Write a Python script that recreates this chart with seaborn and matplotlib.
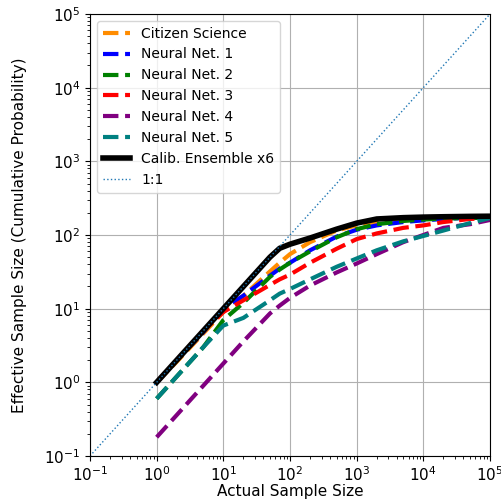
import matplotlib
matplotlib.use("Agg")
import matplotlib.pyplot as plt
import seaborn as sns
import numpy as np

x = [1, 2, 5, 10, 20, 50, 70, 100, 200, 500, 1000, 2000, 5000, 1e4, 2e4, 5e4, 1e5]

citizen = [1, 1.9, 4.6, 9, 15, 32, 42, 55, 80, 115, 135, 148, 160, 165, 170, 173, 175]
nn1 = [1, 2, 4.8, 10, 15, 28, 35, 42, 62, 95, 118, 135, 150, 158, 165, 172, 178]
nn2 = [0.6, 1.2, 3, 7, 12, 27, 34, 42, 60, 93, 120, 140, 155, 162, 167, 170, 172]
nn3 = [1, 2, 5, 9, 13, 21, 25, 29, 42, 65, 88, 105, 125, 135, 150, 165, 170]
nn4 = [0.18, 0.36, 0.9, 1.8, 3.6, 8.6, 11, 14, 20.6, 31, 41, 55, 80, 100, 125, 140, 160]
nn5 = [0.6, 1.2, 3, 5.9, 7.5, 13, 16, 18.5, 25, 37, 48, 62, 82, 97, 115, 145, 170]
calib = [1, 2, 5, 10, 20, 50, 66, 75, 91, 120, 145, 165, 172, 175, 177, 179, 180]

one_to_one = [0.1, 1e5]

series = [
    ("Citizen Science", citizen, "darkorange"),
    ("Neural Net. 1", nn1, "blue"),
    ("Neural Net. 2", nn2, "green"),
    ("Neural Net. 3", nn3, "red"),
    ("Neural Net. 4", nn4, "purple"),
    ("Neural Net. 5", nn5, "teal"),
]

plt.rcParams['font.family'] = ['DejaVu Sans']
fig = plt.figure(figsize=(5.01, 4.99), dpi=100)
ax = fig.add_axes([90 / 501, 1 - 456 / 499, 400 / 501, 442 / 499])

for name, ys, col in series:
    sns.lineplot(x=x, y=ys, ax=ax, color=col, linestyle="--", lw=3, label=name)
sns.lineplot(x=x, y=calib, ax=ax, color="black", lw=4, label="Calib. Ensemble x6")
sns.lineplot(x=one_to_one, y=one_to_one, ax=ax, color="tab:blue", linestyle=":", lw=1, label="1:1")

ax.set_xscale("log")
ax.set_yscale("log")
ax.set_xlim(1e-1, 1e5)
ax.set_ylim(1e-1, 1e5)
ax.grid(True, which="major", color="#b0b0b0", lw=0.8)
ax.set_axisbelow(True)
ax.tick_params(axis="both", which="major", labelsize=11)
ax.set_xlabel("Actual Sample Size", fontsize=11, labelpad=0)
ax.set_ylabel("Effective Sample Size (Cumulative Probability)", fontsize=11, labelpad=12)
ax.legend(loc="upper left", fontsize=10)

fig.savefig("out.png", dpi=100)
